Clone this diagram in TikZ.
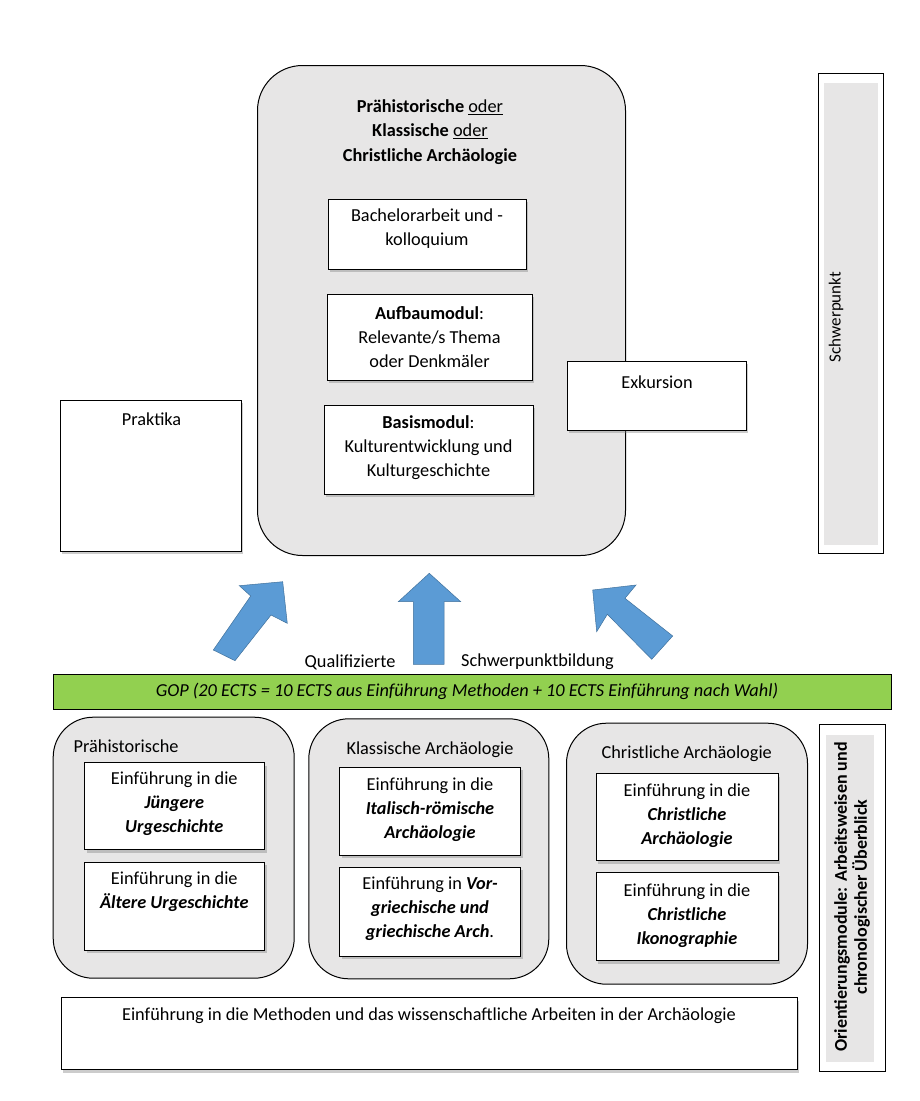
\documentclass[tikz,border=0pt]{standalone}
\usepackage{fontspec}
\setmainfont{Carlito}
\usetikzlibrary{shadows}
\definecolor{boxgray}{HTML}{E7E6E6}
\definecolor{gopgreen}{HTML}{92D050}
\definecolor{arrowblue}{HTML}{5B9BD5}
\definecolor{arrowedge}{HTML}{41719C}
\begin{document}
\begin{tikzpicture}[x=1pt,y=-1pt,
  every node/.style={font=\fontsize{18.3}{24}\selectfont},
  whitebox/.style={draw=black, fill=white, line width=0.9pt, inner sep=0pt, anchor=north west,
    drop shadow={shadow xshift=2pt, shadow yshift=-3pt, opacity=0.4}},
  roundbox/.style={draw=black, fill=boxgray, rounded corners=40pt, line width=1pt, inner sep=0pt, anchor=north west},
  sidebox/.style={draw=black, fill=white, line width=1pt, inner sep=0pt, anchor=north west},
  sidefill/.style={fill=boxgray, inner sep=0pt, anchor=north west},
  txt/.style={align=center, inner sep=0pt},
  blockarrow/.style={fill=arrowblue, draw=arrowedge, line width=0.5pt, line join=miter}
]
\useasboundingbox (0,0) rectangle (919,1101);

% ---------- upper part ----------
\node[roundbox, rounded corners=45pt, minimum width=368pt, minimum height=490pt] (major) at (257,65) {};
\node[txt, font=\fontsize{18.3}{24.5}\selectfont\bfseries] (majortitle) at (430,132)
  {Prähistorische \textmd{\underline{oder}}\\Klassische \textmd{\underline{oder}}\\Christliche Archäologie};

\node[whitebox, minimum width=198pt, minimum height=70pt] (bach) at (328,199) {};
\node[txt] (bachtxt) at (427,229) {Bachelorarbeit und -\\kolloquium};

\node[whitebox, minimum width=205pt, minimum height=86pt] (aufbau) at (327,294) {};
\node[txt] (aufbautxt) at (429.5,337) {\textbf{Aufbaumodul}:\\Relevante/s Thema\\oder Denkmäler};

\node[whitebox, minimum width=209pt, minimum height=89pt] (basis) at (324,405) {};
\node[txt] (basistxt) at (428.5,447.5) {\textbf{Basismodul}:\\Kulturentwicklung und\\Kulturgeschichte};

\node[whitebox, minimum width=179pt, minimum height=69pt] (exk) at (567,361) {};
\node[txt] (exktxt) at (657,382) {Exkursion};

\node[whitebox, minimum width=181pt, minimum height=151pt] (prakt) at (60,400) {};
\node[txt] (prakttxt) at (151.5,419) {Praktika};

\node[sidebox, minimum width=65pt, minimum height=480pt] (schwer) at (818,73) {};
\node[sidefill, minimum width=54pt, minimum height=462pt] (schwerfill) at (824,83) {};
\node[txt, rotate=90, font=\fontsize{17}{20}\selectfont] (schwertxt) at (836,317) {Schwerpunkt};

% ---------- arrows ----------
\draw[blockarrow] (282.7,581.7) -- (287.3,623.3) -- (271,615) -- (235,660.7) -- (213.3,650)
  -- (250.7,596) -- (239.3,585.7) -- cycle;
\draw[blockarrow] (429.3,573.3) -- (460.7,601.7) -- (444,601.7) -- (444,664.3) -- (413.3,664.3)
  -- (413.3,601.7) -- (398.3,601.7) -- cycle;
\draw[blockarrow] (592.7,590) -- (636,585) -- (625,598.3) -- (672.7,636) -- (651.7,659.3)
  -- (607.3,614.3) -- (596.7,631.7) -- cycle;

\node[txt] (qual) at (350,662) {Qualifizierte};
\node[txt] (spb) at (537.5,662) {Schwerpunktbildung};

% ---------- GOP bar ----------
\node[draw=black, fill=gopgreen, line width=1pt, inner sep=0pt, anchor=north west,
  minimum width=838pt, minimum height=35pt] (gop) at (53,674) {};
\node[txt, font=\fontsize{18.3}{24}\selectfont\itshape] (goptxt) at (467,691)
  {GOP (20 ECTS = 10 ECTS aus Einführung Methoden + 10 ECTS Einführung nach Wahl)};

% ---------- lower part ----------
\node[roundbox, minimum width=241pt, minimum height=261pt] (prae) at (52.7,716.7) {};
\node[txt, anchor=west] (praetitle) at (73.5,746.5) {Prähistorische};
\node[whitebox, minimum width=180pt, minimum height=87pt] (prae1) at (84.3,762.3) {};
\node[txt] (prae1txt) at (174.3,804) {Einführung in die\\\textbf{\textit{Jüngere}}\\\textbf{\textit{Urgeschichte}}};
\node[whitebox, minimum width=180pt, minimum height=88pt] (prae2) at (84.3,861.7) {};
\node[txt] (prae2txt) at (174.3,892) {Einführung in die\\\textbf{\textit{Ältere Urgeschichte}}};

\node[roundbox, minimum width=240pt, minimum height=260pt] (klass) at (308.3,718.3) {};
\node[txt] (klasstitle) at (430,749.3) {Klassische Archäologie};
\node[whitebox, minimum width=181pt, minimum height=88pt] (klass1) at (339.3,766.7) {};
\node[txt] (klass1txt) at (430,809.5) {Einführung in die\\\textbf{\textit{Italisch-römische}}\\\textbf{\textit{Archäologie}}};
\node[whitebox, minimum width=181pt, minimum height=89pt] (klass2) at (339.3,866.7) {};
\node[txt] (klass2txt) at (430,908.5) {Einführung in \textbf{\textit{Vor-}}\\\textbf{\textit{griechische und}}\\\textbf{\textit{griechische Arch}}.};

\node[roundbox, minimum width=241pt, minimum height=261pt] (christ) at (566,722.7) {};
\node[txt] (christtitle) at (686.7,753.3) {Christliche Archäologie};
\node[whitebox, minimum width=182pt, minimum height=87pt] (christ1) at (596,773.3) {};
\node[txt] (christ1txt) at (687,815.5) {Einführung in die\\\textbf{\textit{Christliche}}\\\textbf{\textit{Archäologie}}};
\node[whitebox, minimum width=182pt, minimum height=88pt] (christ2) at (596,872.3) {};
\node[txt] (christ2txt) at (687,915.5) {Einführung in die\\\textbf{\textit{Christliche}}\\\textbf{\textit{Ikonographie}}};

\node[whitebox, minimum width=736pt, minimum height=72pt] (meth) at (60.7,997.3) {};
\node[txt] (methtxt) at (429,1016) {Einführung in die Methoden und das wissenschaftliche Arbeiten in der Archäologie};

\node[sidebox, minimum width=66pt, minimum height=347pt] (orient) at (819.3,724.3) {};
\node[sidefill, minimum width=48pt, minimum height=327pt] (orientfill) at (826,735) {};
\node[txt, rotate=90, font=\fontsize{18}{20}\selectfont\bfseries] (orienttxt) at (852,897)
  {Orientierungsmodule: Arbeitsweisen und\\chronologischer Überblick};

\end{tikzpicture}
\end{document}
